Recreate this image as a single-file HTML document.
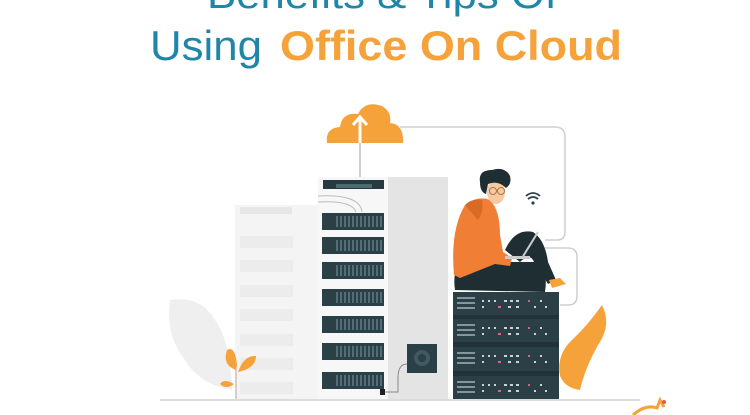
<!DOCTYPE html>
<html><head><meta charset="utf-8"><style>
html,body{margin:0;padding:0;background:#fff;width:750px;height:415px;overflow:hidden}
svg{display:block}
</style></head><body>
<svg width="750" height="415" viewBox="0 0 750 415" xmlns="http://www.w3.org/2000/svg">
<rect width="750" height="415" fill="#fff"/>
<!-- title -->
<text x="382" y="8" text-anchor="middle" font-family="Liberation Sans, sans-serif" font-size="40" font-weight="300" fill="#1f86a8" textLength="350" lengthAdjust="spacingAndGlyphs">Benefits &amp; Tips Of</text>
<text x="150" y="60" font-family="Liberation Sans, sans-serif" font-size="42" fill="#1f86a8" textLength="112" lengthAdjust="spacingAndGlyphs">Using</text>
<text x="280" y="60" font-family="Liberation Sans, sans-serif" font-size="42" font-weight="bold" fill="#f6a23a" textLength="342" lengthAdjust="spacingAndGlyphs">Office On Cloud</text>

<!-- connector lines -->
<path d="M400 127 H555 Q565 127 565 137 V232 Q565 240 557 240 H545" fill="none" stroke="#cfcfcf" stroke-width="1.5"/>
<path d="M545 248 H568 Q577 248 577 257 V296 Q577 305 568 305 H560" fill="none" stroke="#cfcfcf" stroke-width="1.5"/>
<path d="M360 177 V112" stroke="#cfcfcf" stroke-width="2"/>

<!-- cloud -->
<path d="M327 143 Q325 128 340 127 Q342 112 358 114 Q365 100 382 106 Q392 112 390 123 Q404 124 403 143 Z" fill="#f6a23a"/>
<path d="M360 143 V118 M353 125 L360 117 L367 125" stroke="#fff" stroke-width="3" fill="none"/>

<!-- left faded plant leaf -->
<path d="M170 300 Q200 295 215 320 Q230 340 232 390 Q200 385 185 360 Q165 335 170 300 Z" fill="#efefef"/>

<!-- faded rack -->
<rect x="235" y="205" width="85" height="195" fill="#f4f4f4"/>
<rect x="240" y="207" width="52" height="7" fill="#e6e6e6"/>
<g fill="#ececec">
<rect x="240" y="236" width="53" height="12"/><rect x="240" y="260" width="53" height="12"/><rect x="240" y="285" width="53" height="12"/><rect x="240" y="309" width="53" height="12"/><rect x="240" y="334" width="53" height="12"/><rect x="240" y="358" width="53" height="12"/><rect x="240" y="382" width="53" height="12"/>
</g>

<!-- main rack -->
<rect x="318" y="177" width="70" height="223" fill="#f7f7f7"/>
<rect x="388" y="177" width="60" height="223" fill="#e4e4e4"/>
<rect x="323" y="180" width="61" height="9" fill="#263a40"/>
<rect x="336" y="184" width="36" height="4" fill="#4b6a72"/>
<path d="M318 196 Q360 194 362 212 M318 202 Q352 200 356 212" fill="none" stroke="#bbb" stroke-width="1"/>
<g fill="#2b3f46">
<rect x="322" y="213" width="62" height="17"/><rect x="322" y="237" width="62" height="17"/><rect x="322" y="262" width="62" height="17"/><rect x="322" y="289" width="62" height="17"/><rect x="322" y="316" width="62" height="17"/><rect x="322" y="343" width="62" height="17"/><rect x="322" y="372" width="62" height="17"/>
</g>
<g stroke="#5f7d86" stroke-width="1.5">
<path d="M337 216 V227 M341 216 V227 M345 216 V227 M349 216 V227 M353 216 V227 M357 216 V227 M361 216 V227 M365 216 V227 M369 216 V227 M373 216 V227 M377 216 V227 M381 216 V227" transform="translate(0,0)"/>
<path d="M337 216 V227 M341 216 V227 M345 216 V227 M349 216 V227 M353 216 V227 M357 216 V227 M361 216 V227 M365 216 V227 M369 216 V227 M373 216 V227 M377 216 V227 M381 216 V227" transform="translate(0,24)"/>
<path d="M337 216 V227 M341 216 V227 M345 216 V227 M349 216 V227 M353 216 V227 M357 216 V227 M361 216 V227 M365 216 V227 M369 216 V227 M373 216 V227 M377 216 V227 M381 216 V227" transform="translate(0,49)"/>
<path d="M337 216 V227 M341 216 V227 M345 216 V227 M349 216 V227 M353 216 V227 M357 216 V227 M361 216 V227 M365 216 V227 M369 216 V227 M373 216 V227 M377 216 V227 M381 216 V227" transform="translate(0,76)"/>
<path d="M337 216 V227 M341 216 V227 M345 216 V227 M349 216 V227 M353 216 V227 M357 216 V227 M361 216 V227 M365 216 V227 M369 216 V227 M373 216 V227 M377 216 V227 M381 216 V227" transform="translate(0,103)"/>
<path d="M337 216 V227 M341 216 V227 M345 216 V227 M349 216 V227 M353 216 V227 M357 216 V227 M361 216 V227 M365 216 V227 M369 216 V227 M373 216 V227 M377 216 V227 M381 216 V227" transform="translate(0,130)"/>
<path d="M337 216 V227 M341 216 V227 M345 216 V227 M349 216 V227 M353 216 V227 M357 216 V227 M361 216 V227 M365 216 V227 M369 216 V227 M373 216 V227 M377 216 V227 M381 216 V227" transform="translate(0,159)"/>
</g>
<!-- fan box -->
<rect x="407" y="344" width="30" height="29" fill="#2b3f46"/>
<circle cx="422" cy="358" r="8" fill="#415960"/><circle cx="422" cy="358" r="4" fill="#2b3f46"/>
<path d="M407 364 Q398 364 398 378 V392 H384" fill="none" stroke="#888" stroke-width="1"/>
<rect x="380" y="389" width="5" height="6" fill="#222"/>

<!-- right stack -->
<g fill="#2b3f46">
<rect x="453" y="292" width="106" height="23"/><rect x="453" y="319" width="106" height="23"/><rect x="453" y="347" width="106" height="24"/><rect x="453" y="376" width="106" height="23"/>
</g>
<g fill="#22323a"><rect x="453" y="315" width="106" height="4"/><rect x="453" y="342" width="106" height="5"/><rect x="453" y="371" width="106" height="5"/></g>
<g stroke="#9fb3b8" stroke-width="1.5">
<path d="M457 298 H475 M457 303 H475 M457 308 H475"/><path d="M457 325 H475 M457 330 H475 M457 335 H475"/><path d="M457 353 H475 M457 358 H475 M457 363 H475"/><path d="M457 382 H475 M457 387 H475 M457 392 H475"/>
</g>
<g fill="#c8d4d6">
<g id="dots"><rect x="482" y="300" width="2" height="2"/><rect x="488" y="300" width="2" height="2"/><rect x="494" y="300" width="2" height="2"/><rect x="504" y="300" width="3" height="2"/><rect x="510" y="300" width="3" height="2"/><rect x="516" y="300" width="3" height="2"/><rect x="528" y="300" width="2" height="2" fill="#e0607a"/><rect x="540" y="300" width="2" height="2"/><rect x="482" y="306" width="2" height="2"/><rect x="498" y="306" width="3" height="2" fill="#e0607a"/><rect x="508" y="306" width="3" height="2"/><rect x="516" y="306" width="3" height="2"/><rect x="534" y="306" width="2" height="2"/><rect x="545" y="306" width="2" height="2"/></g>
<use href="#dots" y="27"/><use href="#dots" y="55"/><use href="#dots" y="84"/>
</g>

<!-- person -->
<path d="M455 290 Q452 270 462 262 L540 262 Q548 272 545 292 Z" fill="#1f2e33"/>
<path d="M505 250 Q515 228 533 232 Q545 240 548 262 L556 280 L548 284 L534 262 Q530 252 520 262 Z" fill="#1f2e33"/>
<path d="M454 275 Q450 230 465 205 Q478 195 490 200 Q500 210 500 235 L503 252 L512 258 L510 266 L495 264 Q480 270 460 278 Z" fill="#f07e35"/>
<path d="M465 205 Q472 198 482 200 Q484 212 478 220 Z" fill="#d86a26"/>
<rect x="505" y="256" width="25" height="3" fill="#ccc"/>
<path d="M522 258 L538 232" stroke="#ccc" stroke-width="2"/>
<path d="M549 280 L560 278 L566 284 L552 288 Z" fill="#f6a23a"/>
<ellipse cx="496" cy="192" rx="9" ry="12" fill="#f6c9a5"/>
<path d="M480 182 Q478 170 492 170 Q505 166 510 176 Q512 184 506 188 Q498 180 488 184 L486 194 Q480 192 480 182 Z" fill="#1f2e33"/>
<circle cx="493" cy="191" r="3.5" fill="none" stroke="#b07a3a" stroke-width="1"/><circle cx="501" cy="191" r="3.5" fill="none" stroke="#b07a3a" stroke-width="1"/>
<!-- wifi -->
<path d="M526 196 Q533 190 540 196 M528 199 Q533 195 538 199" fill="none" stroke="#2b3f46" stroke-width="1.8"/>
<circle cx="533" cy="203" r="1.6" fill="#2b3f46"/>

<!-- right orange leaf -->
<path d="M602 305 Q612 325 598 345 Q585 368 580 390 Q565 388 560 376 Q556 355 572 340 Q588 325 602 305 Z" fill="#f6a23a"/>
<!-- small plant -->
<path d="M236 400 V362" stroke="#c7a990" stroke-width="1"/>
<path d="M236 370 Q222 365 227 350 Q235 345 237 365 Z" fill="#f6a23a"/>
<path d="M238 372 Q244 355 256 356 Q256 368 238 372 Z" fill="#f6a23a"/>
<path d="M234 384 Q224 378 220 384 Q226 390 234 384 Z" fill="#f6a23a"/>

<!-- ground -->
<rect x="160" y="399" width="480" height="2" fill="#dcdcdc"/>
<!-- logo -->
<path d="M633 415 Q645 404 657 408 L660 400 L664 407" fill="none" stroke="#f6a23a" stroke-width="3"/>
<circle cx="664" cy="402" r="2" fill="#e85b3a"/>
</svg>
</body></html>
